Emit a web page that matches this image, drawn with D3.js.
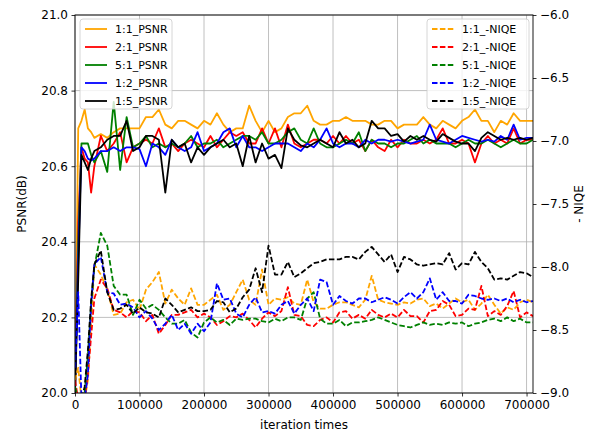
<!DOCTYPE html>
<html><head><meta charset="utf-8">
<script src="https://cdn.jsdelivr.net/npm/d3@7/dist/d3.min.js"></script>
<style>
html,body{margin:0;padding:0;background:#fff;}
text{font-family:"DejaVu Sans",sans-serif;}
</style></head>
<body>
<svg id="chart" width="592" height="436"></svg>
<script>
const iterations = [0, 5000, 10000, 15000, 20000, 25000, 30000,
  40000, 50000, 60000, 70000, 80000, 90000, 100000,
  110000, 120000, 130000, 140000, 150000, 160000, 170000, 180000, 190000, 200000,
  210000, 220000, 230000, 240000, 250000, 260000, 270000, 280000, 290000, 300000,
  310000, 320000, 330000, 340000, 350000, 360000, 370000, 380000, 390000, 400000,
  410000, 420000, 430000, 440000, 450000, 460000, 470000, 480000, 490000, 500000,
  510000, 520000, 530000, 540000, 550000, 560000, 570000, 580000, 590000, 600000,
  610000, 620000, 630000, 640000, 650000, 660000, 670000, 680000, 690000, 700000, 710000];

const seriesNames = ["1:1", "2:1", "5:1", "1:2", "1:5"];
const seriesColors = ["orange", "red", "green", "blue", "black"];

const psnr_1_1 = [20.00, 20.70, 20.72, 20.75, 20.70, 20.69, 20.675,
  20.685, 20.675, 20.69, 20.70, 20.70, 20.70, 20.70,
  20.73, 20.73, 20.75, 20.71, 20.70, 20.72, 20.72, 20.71, 20.70, 20.72,
  20.71, 20.74, 20.71, 20.69, 20.70, 20.70, 20.76, 20.72, 20.69, 20.72,
  20.69, 20.70, 20.73, 20.74, 20.74, 20.76, 20.72, 20.71, 20.71, 20.72,
  20.72, 20.73, 20.72, 20.72, 20.72, 20.71, 20.71, 20.72, 20.72, 20.70,
  20.71, 20.71, 20.71, 20.73, 20.71, 20.70, 20.72, 20.71, 20.70, 20.72,
  20.73, 20.75, 20.72, 20.72, 20.69, 20.72, 20.71, 20.74, 20.72, 20.72, 20.72];
const psnr_2_1 = [20.00, 20.45, 20.65, 20.62, 20.61, 20.53, 20.60,
  20.68, 20.64, 20.66, 20.69, 20.61, 20.65, 20.66,
  20.67, 20.66, 20.70, 20.65, 20.66, 20.64, 20.66, 20.67, 20.66, 20.65,
  20.68, 20.65, 20.67, 20.69, 20.68, 20.69, 20.66, 20.66, 20.70, 20.66,
  20.70, 20.65, 20.71, 20.66, 20.65, 20.66, 20.67, 20.67, 20.66, 20.68,
  20.66, 20.68, 20.66, 20.67, 20.64, 20.67, 20.65, 20.64, 20.67, 20.65,
  20.67, 20.66, 20.66, 20.67, 20.66, 20.67, 20.70, 20.66, 20.66, 20.67,
  20.66, 20.61, 20.66, 20.68, 20.66, 20.67, 20.66, 20.70, 20.66, 20.67, 20.67];
const psnr_5_1 = [20.00, 20.40, 20.66, 20.66, 20.66, 20.63, 20.61,
  20.64, 20.585, 20.77, 20.59, 20.73, 20.65, 20.66,
  20.68, 20.65, 20.66, 20.65, 20.66, 20.65, 20.66, 20.68, 20.65, 20.66,
  20.66, 20.67, 20.65, 20.66, 20.67, 20.68, 20.68, 20.67, 20.69, 20.66,
  20.66, 20.67, 20.69, 20.70, 20.67, 20.66, 20.70, 20.66, 20.65, 20.65,
  20.66, 20.67, 20.66, 20.69, 20.64, 20.67, 20.66, 20.66, 20.65, 20.66,
  20.66, 20.67, 20.68, 20.66, 20.67, 20.66, 20.66, 20.66, 20.65, 20.66,
  20.67, 20.66, 20.66, 20.67, 20.66, 20.65, 20.66, 20.67, 20.66, 20.66, 20.67];
const psnr_1_2 = [20.00, 20.35, 20.65, 20.64, 20.62, 20.615, 20.62,
  20.64, 20.64, 20.65, 20.64, 20.65, 20.65, 20.645,
  20.60, 20.66, 20.65, 20.63, 20.67, 20.65, 20.64, 20.65, 20.69, 20.64,
  20.65, 20.66, 20.69, 20.70, 20.65, 20.68, 20.65, 20.65, 20.64, 20.65,
  20.66, 20.66, 20.66, 20.65, 20.64, 20.66, 20.65, 20.67, 20.70, 20.66,
  20.65, 20.66, 20.66, 20.65, 20.67, 20.66, 20.67, 20.67, 20.665, 20.67,
  20.665, 20.66, 20.665, 20.67, 20.71, 20.67, 20.665, 20.66, 20.67, 20.68,
  20.675, 20.67, 20.665, 20.67, 20.665, 20.68, 20.67, 20.71, 20.67, 20.675, 20.675];
const psnr_1_5 = [20.00, 20.30, 20.63, 20.61, 20.59, 20.62, 20.64,
  20.65, 20.67, 20.68, 20.68, 20.72, 20.64, 20.65,
  20.68, 20.68, 20.67, 20.53, 20.67, 20.65, 20.66, 20.61, 20.65, 20.63,
  20.65, 20.66, 20.67, 20.65, 20.66, 20.60, 20.68, 20.61, 20.66, 20.62,
  20.63, 20.595, 20.70, 20.67, 20.655, 20.65, 20.66, 20.67, 20.66, 20.65,
  20.69, 20.66, 20.67, 20.65, 20.66, 20.72, 20.70, 20.70, 20.68, 20.685,
  20.665, 20.68, 20.67, 20.68, 20.67, 20.665, 20.685, 20.675, 20.665, 20.66,
  20.66, 20.64, 20.675, 20.69, 20.68, 20.67, 20.675, 20.67, 20.675, 20.67, 20.675];

const niqe_1_1 = [-8.90, -8.80, -9.05, -9.05, -8.90, -8.45, -7.98,
  -8.06, -8.18, -8.38, -8.37, -8.28, -8.26, -8.34,
  -8.18, -8.12, -8.04, -8.29, -8.18, -8.25, -8.30, -8.17, -8.30, -8.30,
  -8.26, -8.22, -8.34, -8.30, -8.20, -8.10, -8.26, -8.30, -8.02, -8.30,
  -8.25, -8.26, -8.24, -8.29, -8.30, -8.10, -8.28, -8.33, -8.33, -8.30,
  -8.28, -8.28, -8.30, -8.32, -8.26, -8.07, -8.26, -8.28, -8.29, -8.30,
  -8.28, -8.29, -8.26, -8.25, -8.31, -8.29, -8.33, -8.29, -8.25, -8.28,
  -8.26, -8.34, -8.29, -8.22, -8.30, -8.37, -8.32, -8.34, -8.28, -8.26, -8.28];
const niqe_2_1 = [-8.90, -9.05, -9.05, -9.05, -8.85, -8.55, -8.25,
  -8.10, -8.17, -8.34, -8.36, -8.40, -8.35, -8.36,
  -8.43, -8.38, -8.53, -8.46, -8.38, -8.38, -8.36, -8.34, -8.40, -8.37,
  -8.40, -8.46, -8.43, -8.39, -8.40, -8.37, -8.42, -8.48, -8.41, -8.36,
  -8.39, -8.35, -8.16, -8.38, -8.39, -8.46, -8.47, -8.42, -8.40, -8.44,
  -8.36, -8.35, -8.41, -8.38, -8.41, -8.34, -8.38, -8.40, -8.37, -8.40,
  -8.34, -8.39, -8.39, -8.44, -8.35, -8.34, -8.27, -8.30, -8.39, -8.38,
  -8.33, -8.34, -8.15, -8.39, -8.35, -8.38, -8.31, -8.19, -8.40, -8.36, -8.39];
const niqe_5_1 = [-8.95, -9.05, -9.05, -9.00, -8.70, -8.30, -8.00,
  -7.73, -7.83, -8.15, -8.22, -8.22, -8.38, -8.26,
  -8.33, -8.30, -8.34, -8.40, -8.45, -8.45, -8.42, -8.52, -8.56, -8.44,
  -8.40, -8.44, -8.42, -8.46, -8.41, -8.42, -8.41, -8.41, -8.43, -8.44,
  -8.41, -8.43, -8.40, -8.40, -8.42, -8.25, -8.20, -8.41, -8.45, -8.45,
  -8.42, -8.47, -8.44, -8.44, -8.43, -8.42, -8.40, -8.42, -8.44, -8.46,
  -8.47, -8.48, -8.46, -8.44, -8.46, -8.45, -8.46, -8.44, -8.45, -8.44,
  -8.47, -8.45, -8.44, -8.42, -8.41, -8.43, -8.40, -8.43, -8.41, -8.44, -8.44];
const niqe_1_2 = [-8.80, -8.20, -9.05, -9.05, -8.85, -8.30, -7.98,
  -7.92, -8.20, -8.21, -8.30, -8.29, -8.32, -8.40,
  -8.35, -8.41, -8.50, -8.45, -8.38, -8.50, -8.45, -8.53, -8.45, -8.51,
  -8.44, -8.13, -8.26, -8.25, -8.37, -8.40, -8.30, -8.24, -8.36, -8.35,
  -8.37, -8.30, -8.27, -8.37, -8.30, -8.25, -8.35, -8.10, -8.12, -8.30,
  -8.23, -8.27, -8.29, -8.25, -8.25, -8.28, -8.26, -8.24, -8.26, -8.29,
  -8.24, -8.20, -8.25, -8.20, -8.09, -8.26, -8.20, -8.27, -8.27, -8.29,
  -8.22, -8.23, -8.25, -8.26, -8.25, -8.27, -8.25, -8.28, -8.26, -8.28, -8.27];
const niqe_1_5 = [-9.05, -9.05, -9.05, -8.95, -8.66, -8.26, -7.98,
  -7.87, -8.20, -8.34, -8.33, -8.30, -8.37, -8.32,
  -8.36, -8.37, -8.40, -8.25, -8.30, -8.36, -8.34, -8.32, -8.35, -8.35,
  -8.34, -8.27, -8.28, -8.36, -8.33, -8.24, -8.18, -8.01, -8.20, -7.83,
  -8.06, -8.06, -7.96, -8.08, -8.05, -8.01, -7.97, -7.96, -7.94, -7.94,
  -7.94, -7.92, -7.92, -7.94, -7.88, -7.84, -7.90, -7.96, -7.90, -8.04,
  -7.92, -7.94, -7.98, -7.99, -7.98, -7.97, -7.98, -7.89, -8.02, -7.97,
  -7.98, -7.88, -7.96, -8.01, -8.10, -8.09, -8.10, -8.07, -8.04, -8.05, -8.08];

const xTicks = [0, 100000, 200000, 300000, 400000, 500000, 600000, 700000];
const psnrTicks = [20.0, 20.2, 20.4, 20.6, 20.8, 21.0];
const niqeTicks = [-9.0, -8.5, -8.0, -7.5, -7.0, -6.5, -6.0];

const psnrSeries = [psnr_1_1, psnr_2_1, psnr_5_1, psnr_1_2, psnr_1_5];
const niqeSeries = [niqe_1_1, niqe_2_1, niqe_5_1, niqe_1_2, niqe_1_5];

const L = 75, R = 533, T = 15, B = 393;
const svg = d3.select("#chart");
const x = d3.scaleLinear().domain([0, 710000]).range([L, R]);
const yL = d3.scaleLinear().domain([20.0, 21.0]).range([B, T]);
const yR = d3.scaleLinear().domain([-9.0, -6.0]).range([B, T]);

svg.append("defs").append("clipPath").attr("id", "clip")
  .append("rect").attr("x", L).attr("y", T).attr("width", R - L).attr("height", B - T);

// grid
const grid = svg.append("g").attr("stroke", "#b0b0b0").attr("stroke-width", 0.8);
xTicks.forEach(t => grid.append("line").attr("x1", x(t)).attr("x2", x(t)).attr("y1", T).attr("y2", B));
psnrTicks.forEach(t => grid.append("line").attr("x1", L).attr("x2", R).attr("y1", yL(t)).attr("y2", yL(t)));

const plot = svg.append("g").attr("clip-path", "url(#clip)");
psnrSeries.forEach((s, k) => {
  const line = d3.line().x((d, i) => x(iterations[i])).y(d => yL(d));
  plot.append("path").datum(s.slice(0, iterations.length))
    .attr("fill", "none").attr("stroke", seriesColors[k]).attr("stroke-width", 1.8)
    .attr("stroke-linejoin", "round").attr("d", line);
});
niqeSeries.forEach((s, k) => {
  const line = d3.line().x((d, i) => x(iterations[i])).y(d => yR(d));
  plot.append("path").datum(s.slice(0, iterations.length))
    .attr("fill", "none").attr("stroke", seriesColors[k]).attr("stroke-width", 1.8)
    .attr("stroke-dasharray", "5.5,2.4").attr("stroke-linejoin", "round").attr("d", line);
});

// axes
const fmtX = d3.format("d");
const gx = svg.append("g").attr("transform", `translate(0,${B})`)
  .call(d3.axisBottom(x).tickValues(xTicks).tickFormat(fmtX).tickSizeOuter(0).tickSize(3.5).tickPadding(3.5));
const gl = svg.append("g").attr("transform", `translate(${L},0)`)
  .call(d3.axisLeft(yL).tickValues(psnrTicks).tickFormat(d3.format(".1f")).tickSizeOuter(0).tickSize(3.5).tickPadding(3.5));
const gr = svg.append("g").attr("transform", `translate(${R},0)`)
  .call(d3.axisRight(yR).tickValues(niqeTicks).tickFormat(d3.format(".1f")).tickSizeOuter(0).tickSize(3.5).tickPadding(3.5));
[gx, gl, gr].forEach(g => {
  g.select(".domain").remove();
  g.selectAll("text").attr("font-size", 12).attr("font-family", "DejaVu Sans").attr("fill", "#000");
  g.selectAll("line").attr("stroke", "#000").attr("stroke-width", 0.8);
});
svg.append("rect").attr("x", L).attr("y", T).attr("width", R - L).attr("height", B - T)
  .attr("fill", "none").attr("stroke", "#000").attr("stroke-width", 0.9);

// labels
svg.append("text").attr("x", (L + R) / 2).attr("y", 429).attr("text-anchor", "middle")
  .attr("font-size", 12).text("iteration times");
svg.append("text").attr("transform", `translate(26,${(T + B) / 2}) rotate(-90)`).attr("text-anchor", "middle")
  .attr("font-size", 12).text("PSNR(dB)");
svg.append("text").attr("transform", `translate(583,${(T + B) / 2}) rotate(-90)`).attr("text-anchor", "middle")
  .attr("font-size", 12).text("- NIQE");

// legends
function legend(x0, y0, w, suffix, dashed) {
  const g = svg.append("g");
  g.append("rect").attr("x", x0).attr("y", y0).attr("width", w).attr("height", 90).attr("rx", 3)
    .attr("fill", "#fff").attr("fill-opacity", 0.8).attr("stroke", "#cccccc").attr("stroke-width", 0.8);
  seriesNames.forEach((n, k) => {
    const yy = y0 + 10 + k * 18;
    g.append("line").attr("x1", x0 + 5).attr("x2", x0 + 27).attr("y1", yy).attr("y2", yy)
      .attr("stroke", seriesColors[k]).attr("stroke-width", 1.8)
      .attr("stroke-dasharray", dashed ? "5.5,2.4" : null);
    g.append("text").attr("x", x0 + 35).attr("y", yy + 4).attr("font-size", 11).text(n + suffix);
  });
}
legend(80, 19, 92, "_PSNR", false);
legend(427, 19, 102, "_-NIQE", true);
</script>
</body></html>
